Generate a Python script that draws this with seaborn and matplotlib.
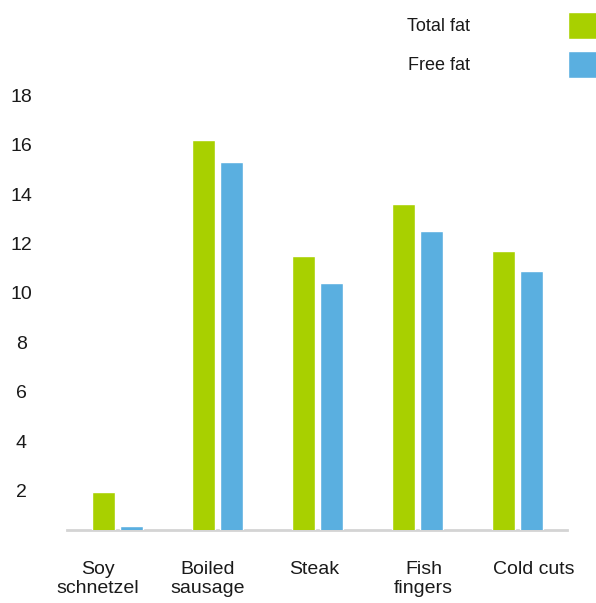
import pandas as pd
import matplotlib.pyplot as plt
import matplotlib.transforms as mtransforms
import seaborn as sns

# values (g of fat)
foods = ["Soy\nschnetzel", "Boiled\nsausage", "Steak", "Fish\nfingers", "Cold cuts"]
total_fat = [1.95, 16.2, 11.5, 13.6, 11.7]
free_fat = [0.55, 15.3, 10.4, 12.5, 10.9]
series = ["Total fat", "Free fat"]
yticks = [2, 4, 6, 8, 10, 12, 14, 16, 18]

df = pd.DataFrame({
    "food": foods * 2,
    "fat": total_fat + free_fat,
    "type": [series[0]] * len(foods) + [series[1]] * len(foods),
})

sns.set_theme(style="white")
plt.rcParams["font.family"] = ["Liberation Sans", "DejaVu Sans"]
plt.rcParams["text.color"] = "#1a1a1a"

fig = plt.figure(figsize=(5.96, 6.03), dpi=100)
ax = fig.add_axes([0.1124, 0.1211, 0.8389, 0.7297])

sns.barplot(data=df, x="food", y="fat", hue="type", palette=["#a8d000", "#5aafe0"],
            width=0.56, gap=0.18, saturation=1, ax=ax)

ax.set_xlim(-0.505, 4.495)
ax.set_ylim(0.405, 18.22)
ax.set_yticks(yticks)
ax.set_xlabel("")
ax.set_ylabel("")

sns.despine(ax=ax, left=True)
ax.spines["bottom"].set_color("#d4d4d4")
ax.spines["bottom"].set_linewidth(2)
ax.spines["bottom"].set_zorder(0.5)

ax.tick_params(axis="y", length=0, pad=33, labelsize=14, labelcolor="#1a1a1a")
ax.tick_params(axis="x", length=0, pad=22, labelsize=14, labelcolor="#1a1a1a")
for t in ax.get_yticklabels():
    t.set_ha("center")

# the category labels in the reference sit a little off the group centres
label_shift_px = [-20, -10, -3, 6, 16]
for t, dx in zip(ax.get_xticklabels(), label_shift_px):
    t.set_transform(t.get_transform() + mtransforms.ScaledTranslation(dx / 100, 0, fig.dpi_scale_trans))

sns.move_legend(ax, "upper left", bbox_to_anchor=(407 / 596, 1 - 12 / 603),
                bbox_transform=fig.transFigure, frameon=False, markerfirst=False,
                title=None, fontsize=13, handlelength=2.0, handleheight=1.9,
                handletextpad=5.4, labelspacing=0.7, borderpad=0, borderaxespad=0)

fig.savefig("out.png", dpi=100)
